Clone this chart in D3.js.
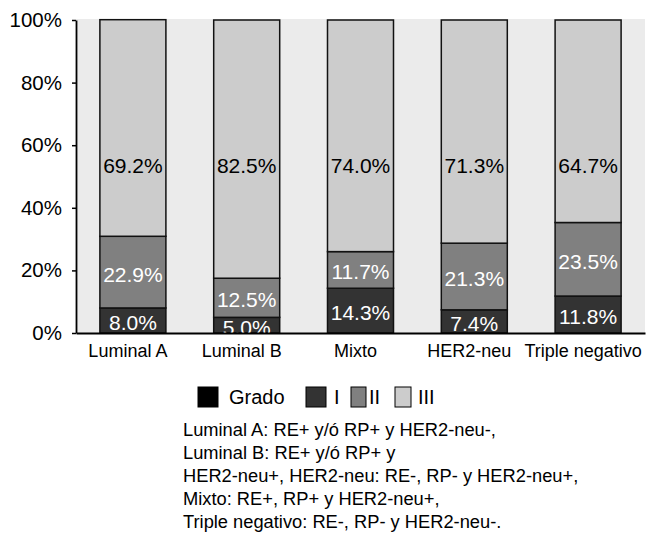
<!DOCTYPE html>
<html>
<head>
<meta charset="utf-8">
<script src="https://cdn.jsdelivr.net/npm/d3@7"></script>
<style>
  html, body { margin: 0; padding: 0; background: #ffffff; }
  svg { display: block; font-family: "Liberation Sans", Arial, sans-serif; }
</style>
</head>
<body>
<svg id="chart" width="649" height="534"></svg>
<script>
// Molecular subtype categories
const categories = ["Luminal A", "Luminal B", "Mixto", "HER2-neu", "Triple negativo"];
// Percentage of cases by histological grade
const gradeI   = [8.0, 5.0, 14.3, 7.4, 11.8];
const gradeII  = [22.9, 12.5, 11.7, 21.3, 23.5];
const gradeIII = [69.2, 82.5, 74.0, 71.3, 64.7];
const grades = ["I", "II", "III"];
const yTicks = [0, 20, 40, 60, 80, 100];
const legendTitle = "Grado";
const notes = [
  "Luminal A: RE+ y/ó RP+ y HER2-neu-,",
  "Luminal B: RE+ y/ó RP+ y",
  "HER2-neu+, HER2-neu: RE-, RP- y HER2-neu+,",
  "Mixto: RE+, RP+ y HER2-neu+,",
  "Triple negativo: RE-, RP- y HER2-neu-."
];

const colors = { I: "#333333", II: "#808080", III: "#cccccc" };
const labelColors = { I: "#ffffff", II: "#ffffff", III: "#000000" };

const svg = d3.select("#chart");
const plot = { left: 76, right: 645, top: 20, bottom: 333 };

const x = d3.scaleBand()
  .domain(categories)
  .range([plot.left, plot.right])
  .paddingInner(0.42)
  .paddingOuter(0.21);

const y = d3.scaleLinear()
  .domain([0, 100])
  .range([plot.bottom, plot.top]);

// Plot background
svg.append("rect")
  .attr("x", plot.left)
  .attr("y", y(100) - 1)
  .attr("width", plot.right - plot.left)
  .attr("height", plot.bottom - y(100) + 1)
  .attr("fill", "#ebebeb");

svg.append("defs").append("clipPath").attr("id", "plot-clip")
  .append("rect")
  .attr("x", plot.left).attr("y", 0)
  .attr("width", plot.right - plot.left).attr("height", plot.bottom);

// Stack the three grades
const rows = categories.map((c, i) => ({ cat: c, I: gradeI[i], II: gradeII[i], III: gradeIII[i] }));
const stacked = d3.stack().keys(grades)(rows);

const g = svg.append("g").attr("clip-path", "url(#plot-clip)");

const layers = g.selectAll("g.layer")
  .data(stacked)
  .join("g")
  .attr("class", "layer");

layers.selectAll("rect")
  .data(d => d.map(p => ({ key: d.key, p })))
  .join("rect")
  .attr("x", d => x(d.p.data.cat))
  .attr("y", d => y(d.p[1]))
  .attr("width", x.bandwidth())
  .attr("height", d => y(d.p[0]) - y(d.p[1]))
  .attr("fill", d => colors[d.key])
  .attr("stroke", "#111111")
  .attr("stroke-width", 1.5);

// Value labels: grades I and II centred in their segment, grade III at a common height
const topLabelAt = 53.5;
layers.selectAll("text")
  .data(d => d.map(p => ({ key: d.key, p })))
  .join("text")
  .attr("x", d => x(d.p.data.cat) + x.bandwidth() / 2)
  .attr("y", d => d.key === "III" ? y(topLabelAt) : y((d.p[0] + d.p[1]) / 2) + 2)
  .attr("dy", "0.36em")
  .attr("text-anchor", "middle")
  .attr("font-size", 21)
  .attr("fill", d => labelColors[d.key])
  .text(d => (d.p[1] - d.p[0]).toFixed(1) + "%");

// Y axis
const yAxis = svg.append("g")
  .attr("transform", `translate(${plot.left},0)`)
  .call(d3.axisLeft(y).tickValues(yTicks).tickFormat(d => d + "%").tickSize(4).tickSizeOuter(0).tickPadding(10));
yAxis.select(".domain").attr("stroke", "#000").attr("stroke-width", 1.8);
yAxis.selectAll(".tick line").attr("stroke", "#000").attr("stroke-width", 1.5);
yAxis.selectAll(".tick text")
  .attr("font-size", 20.5)
  .attr("font-family", "Liberation Sans, Arial, sans-serif")
  .attr("fill", "#000");

// X axis
const xAxis = svg.append("g")
  .attr("transform", `translate(0,${plot.bottom})`)
  .call(d3.axisBottom(x).tickSize(0).tickPadding(11));
xAxis.select(".domain").attr("stroke", "#000").attr("stroke-width", 1.8);
xAxis.selectAll(".tick text")
  .attr("font-size", 18)
  .attr("dx", -5)
  .attr("font-family", "Liberation Sans, Arial, sans-serif")
  .attr("fill", "#000");

// Legend
const legend = svg.append("g");
const legendItems = [
  { label: legendTitle, fill: "#000000", x: 198, w: 20, tx: 229 },
  { label: grades[0], fill: colors.I, x: 306, w: 20, tx: 334 },
  { label: grades[1], fill: colors.II, x: 351, w: 15, tx: 369 },
  { label: grades[2], fill: colors.III, x: 395, w: 16, tx: 418 }
];
legendItems.forEach(it => {
  legend.append("rect")
    .attr("x", it.x).attr("y", 387)
    .attr("width", it.w).attr("height", 20)
    .attr("fill", it.fill)
    .attr("stroke", "#000").attr("stroke-width", 1);
  legend.append("text")
    .attr("x", it.tx).attr("y", 404)
    .attr("font-size", 20)
    .attr("fill", "#000")
    .text(it.label);
});

// Subtype definitions
svg.append("g").selectAll("text")
  .data(notes)
  .join("text")
  .attr("x", 183)
  .attr("y", (d, i) => 436 + i * 23)
  .attr("font-size", 18.3)
  .attr("fill", "#000")
  .text(d => d);
</script>
</body>
</html>
